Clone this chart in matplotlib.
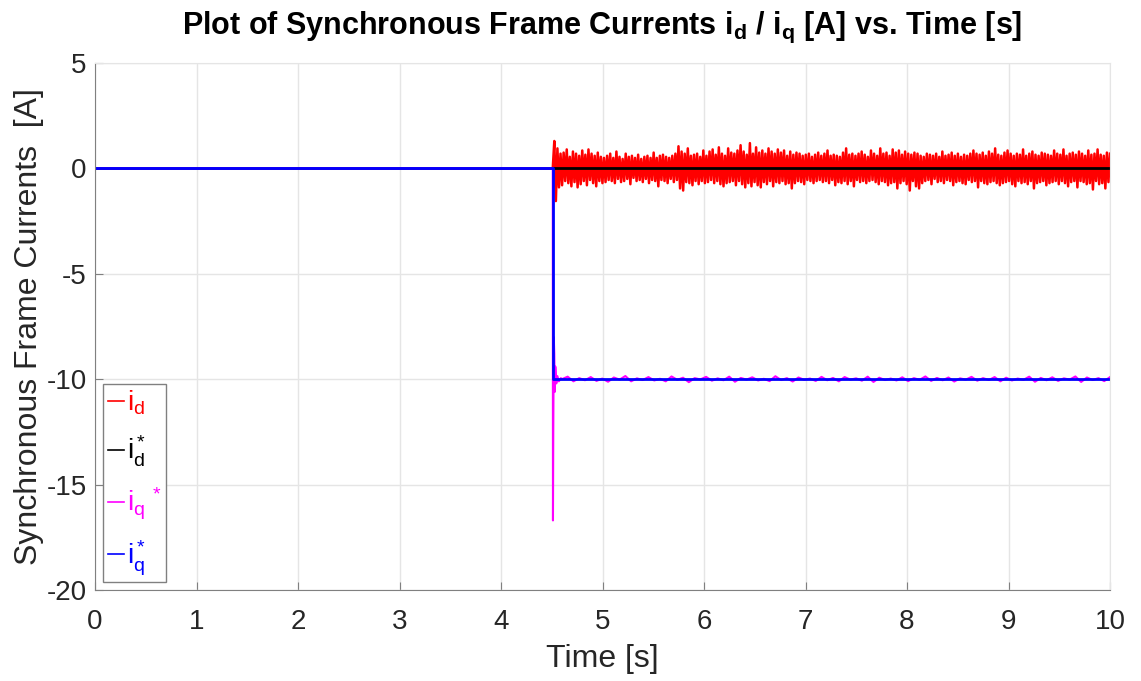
import numpy as np
import matplotlib
matplotlib.use('Agg')
from matplotlib import pyplot as plt

# time of the step in the q-axis reference
t_step = 4.51

# i_q reference (blue) : step from 0 to -10 A
iq_ref_t = [0.0, t_step, t_step, 10.0]
iq_ref_v = [0.0, 0.0, -10.0, -10.0]

# i_d reference (black) : zero all the time
id_ref_t = [0.0, 10.0]
id_ref_v = [0.0, 0.0]

id_noise = [
    0.0, 1.30, -1.55, 0.95, -0.90, 0.70, -0.80, 0.75, -0.60, 0.90, -0.70, 0.55, -0.85, 0.80, -0.65, 0.70, -0.90, 0.60, -0.75, 0.85,
    -0.60, 0.65, -0.80, 0.90, -0.55, 0.70, -0.70, 0.60, -0.85, 0.75, -0.60, 0.55, -0.70, 0.50, -0.65, 0.60, -0.55, 0.70, -0.60, 0.50,
    -0.70, 0.80, -0.50, 0.55, -0.65, 0.45, -0.60, 0.70, -0.50, 0.55, -0.75, 0.60, -0.45, 0.50, -0.60, 0.65, -0.55, 0.45, -0.65, 0.55,
    -0.50, 0.60, -0.70, 0.50, -0.55, 0.75, -0.60, 0.50, -0.85, 0.60, -0.55, 0.65, -0.60, 0.55, -0.70, 0.50, -0.50, 0.60, -0.65, 0.70,
    -0.55, 1.05, -0.95, 0.80, -1.05, 0.70, -0.65, 0.95, -0.70, 0.60, -0.80, 0.65, -0.60, 0.70, -0.75, 0.55, -0.60, 0.85, -0.70, 0.60,
    -0.65, 0.80, -0.55, 0.90, -0.70, 0.65, -0.60, 1.00, -0.75, 0.70, -0.85, 0.60, -0.70, 0.95, -0.65, 0.75, -0.60, 0.70, -0.80, 0.85,
    -0.60, 1.10, -0.75, 0.80, -0.90, 0.65, -0.70, 1.20, -0.85, 0.70, -0.65, 1.00, -0.80, 0.75, -0.90, 0.85, -0.65, 0.70, -0.75, 0.95,
    -0.60, 0.80, -0.85, 0.70, -0.65, 0.90, -0.70, 0.75, -0.60, 0.85, -0.75, 0.60, -0.70, 0.80, -0.95, 0.65, -0.70, 0.75, -0.60, 0.70,
    -0.65, 0.60, -0.75, 0.65, -0.55, 0.70, -0.60, 0.55, -0.70, 0.65, -0.60, 0.75, -0.55, 0.60, -0.65, 0.70, -0.60, 0.85, -0.70, 0.60,
    -0.55, 0.65, -0.80, 0.60, -0.65, 0.55, -0.70, 0.75, -0.60, 0.95, -0.75, 0.65, -0.60, 0.70, -0.85, 0.60, -0.55, 0.70, -0.65, 0.80,
    -0.60, 0.65, -0.70, 0.55, -0.60, 0.85, -0.55, 0.70, -0.65, 0.60, -0.75, 0.95, -0.60, 0.70, -0.65, 0.75, -0.80, 0.60, -0.70, 0.90,
    -0.65, 0.75, -0.95, 0.85, -0.70, 0.65, -0.60, 0.80, -0.75, 0.70, -1.05, 0.65, -0.60, 0.75, -0.85, 0.70, -0.95, 0.60, -0.70, 0.55,
    -0.60, 0.70, -0.55, 0.65, -0.75, 0.60, -0.50, 0.70, -0.65, 0.55, -0.60, 0.80, -0.70, 0.60, -0.55, 0.65, -0.60, 0.75, -0.80, 0.60,
    -0.65, 0.70, -0.60, 0.55, -0.70, 0.65, -0.75, 0.60, -0.55, 0.70, -0.65, 0.85, -0.60, 0.70, -0.90, 0.65, -0.60, 0.75, -0.70, 0.60,
    -0.75, 0.80, -0.65, 0.70, -0.60, 0.95, -0.70, 0.65, -0.80, 0.60, -0.70, 0.75, -0.65, 0.85, -0.60, 0.70, -0.75, 0.60, -0.85, 0.70,
    -0.60, 0.65, -0.70, 0.90, -0.65, 0.60, -0.75, 0.70, -0.60, 0.80, -0.95, 0.65, -0.70, 0.60, -0.65, 0.75, -0.60, 0.70, -0.80, 0.65,
    -0.70, 0.60, -0.65, 0.85, -0.60, 0.70, -0.75, 0.65, -0.60, 0.90, -0.70, 0.60, -0.85, 0.70, -0.65, 0.75, -0.60, 0.65, -0.90, 0.80,
    -0.60, 0.70, -0.65, 0.60, -0.75, 0.85, -0.70, 0.65, -1.00, 0.70, -0.60, 0.90, -0.75, 0.65, -0.70, 0.60, -0.95, 0.75, -0.65, 0.70,
]

# measured i_q (magenta) : transient right after the step, then ripple around -10
iq_trans_t = [0.0, t_step, 4.512, 4.515, 4.52, 4.525, 4.53, 4.535, 4.545, 4.555, 4.57, 4.59]
iq_trans_v = [0.0, 0.0, -16.7, -12.5, -8.0, -8.8, -10.6, -9.4, -10.2, -9.85, -10.1, -9.95]
iq_ripple = [
    -10.00, -9.88, -10.10, -9.95, -10.05, -9.90, -10.08, -9.97, -10.12, -9.92, -10.02, -9.85, -10.10, -9.96, -10.04, -9.90,
    -10.06, -9.98, -10.10, -9.87, -10.03, -9.93, -10.14, -9.95, -10.01, -9.89, -10.07, -9.96, -10.05, -9.88, -10.12, -9.94,
    -10.02, -9.91, -10.06, -9.98, -10.09, -9.86, -10.04, -9.95, -10.11, -9.92, -10.03, -9.97, -10.08, -9.89, -10.05, -9.94,
    -10.10, -9.90, -10.02, -9.96, -10.07, -9.88, -10.13, -9.93, -10.04, -9.97, -10.06, -9.91, -10.09, -9.95, -10.03, -9.87,
    -10.08, -9.94, -10.05, -9.92, -10.11, -9.96, -10.02, -9.89, -10.07, -9.95, -10.04, -9.90, -10.10, -9.93, -10.06, -9.97,
    -10.03, -9.88, -10.12, -9.94, -10.05, -9.91, -10.08, -9.96, -10.02, -9.87, -10.13, -9.92, -10.04, -9.95, -10.09, -9.90,
]

id_t = np.linspace(t_step, 10.0, len(id_noise))
iq_rip_t = np.linspace(4.6, 10.0, len(iq_ripple))
iq_t = list(iq_trans_t) + list(iq_rip_t)
iq_v = list(iq_trans_v) + list(iq_ripple)

plt.rcParams['font.family'] = ['Liberation Sans', 'DejaVu Sans']
plt.rcParams['mathtext.fontset'] = 'custom'
plt.rcParams['mathtext.rm'] = 'Liberation Sans'
plt.rcParams['mathtext.it'] = 'Liberation Sans'
plt.rcParams['mathtext.bf'] = 'Liberation Sans:bold'
plt.rcParams['mathtext.default'] = 'regular'
plt.rcParams['axes.unicode_minus'] = False

fig = plt.figure(figsize=(11.41, 6.81), dpi=100)
ax = fig.add_axes([95 / 1141, 1 - 590 / 681, (1110 - 95) / 1141, (590 - 63) / 681])

ax.plot([0.0] + list(id_t), [0.0] + id_noise, color='#ff0000', lw=1.8, label=r'$i_d$')
ax.plot(id_ref_t, id_ref_v, color='black', lw=2.0, label=r'$i_d^*$')
ax.plot(iq_t, iq_v, color='#ff00ff', lw=1.5, label=r'$i_q\,^*$')
ax.plot(iq_ref_t, iq_ref_v, color='#0000ff', lw=2.0, label=r'$i_q^*$')

ax.set_xlim(0, 10)
ax.set_ylim(-20, 5)
ax.set_xticks(range(0, 11))
ax.set_yticks([-20, -15, -10, -5, 0, 5])
ax.grid(True, color='#e5e5e5', lw=1.0)
ax.set_axisbelow(True)

for side in ['left', 'bottom']:
    ax.spines[side].set_color('#808080')
for side in ['top', 'right']:
    ax.spines[side].set_color('#e5e5e5')
ax.tick_params(direction='in', colors='#808080', labelcolor='#262626', labelsize=20,
               length=6, top=False, right=False)
ax.tick_params(axis='x', pad=14)
ax.tick_params(axis='y', pad=6)

ax.set_xlabel('Time [s]', fontsize=23, color='#262626', labelpad=6)
ax.set_ylabel('Synchronous Frame Currents  [A]', fontsize=23, color='#262626', labelpad=2)
ax.set_title(r'Plot of Synchronous Frame Currents $\mathbf{i_d}$ / $\mathbf{i_q}$ [A] vs. Time [s]',
             fontsize=22, fontweight='bold', pad=21)

leg = ax.legend(loc='lower left', fontsize=20, handlelength=0.6, handletextpad=0.1,
                labelspacing=0.6, borderpad=0.15, borderaxespad=0.3, fancybox=False,
                labelcolor='linecolor', framealpha=1.0)
leg.get_frame().set_edgecolor('#808080')
leg.get_frame().set_linewidth(1.0)
for line in leg.get_lines():
    line.set_linewidth(1.2)

fig.savefig('out.png', dpi=100)
